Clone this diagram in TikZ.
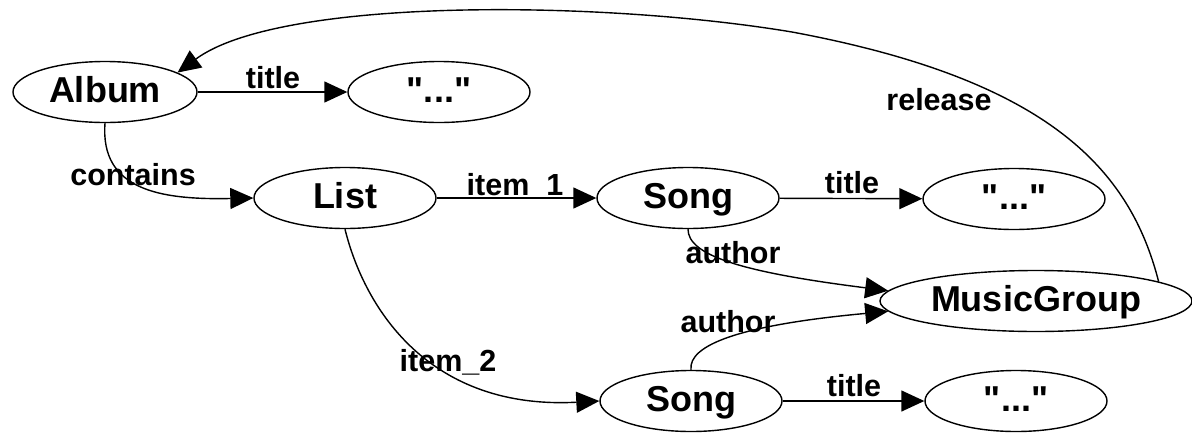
\documentclass[tikz,border=0pt]{standalone}
\usepackage{fontspec}
\setmainfont{Liberation Sans}[Ligatures=TeXOff]
\usetikzlibrary{shapes.geometric,arrows.meta}
\tikzset{
  nd/.style={ellipse, draw, line width=1.4pt, minimum width=182pt, minimum height=61pt,
    inner sep=0pt, text height=26pt, text depth=6pt,
    font=\fontsize{36}{40}\selectfont\bfseries},
  lbl/.style={anchor=base, inner sep=0pt, font=\fontsize{30.5}{34}\selectfont\bfseries},
  edge/.style={line width=1.4pt, -{Triangle[length=23pt,width=21pt]}},
}
\begin{document}
\begin{tikzpicture}[x=1pt,y=-1pt]
\useasboundingbox (0,0) rectangle (1192,432);
\node[nd, minimum width=184pt] (album) at (105,92) {Album};
\node[nd] (str1) at (439,92) {"..."};
\node[nd] (list) at (345,198) {List};
\node[nd] (song1) at (688,198) {Song};
\node[nd] (str2) at (1014,199) {"..."};
\node[nd, minimum width=312pt] (mg) at (1036,301) {MusicGroup};
\node[nd] (song2) at (691,401) {Song};
\node[nd] (str3) at (1016,401) {"..."};

\draw[edge] (album) -- (str1);
\draw[edge] (list) -- (song1);
\draw[edge] (song1) -- (str2);
\draw[edge] (song2) -- (str3);
\draw[edge] (album.south) .. controls (100,190) and (160,200) .. (list.west);
\draw[edge] (list.south) .. controls (365,310) and (430,410) .. (song2.west);
\draw[edge] (song1.south) .. controls (688,255) and (740,272) .. (mg.176);
\draw[edge] (song2.north) .. controls (688,345) and (740,325) .. (mg.184);
\draw[edge] (mg.9) .. controls (1130,170) and (1050,80) .. (792,32)
   .. controls (600,0) and (280,-3) .. (album.15);

\node[lbl] (l1) at (273,88) {title};
\node[lbl] (l2) at (939,110) {release};
\node[lbl] (l3) at (133,185) {contains};
\node[lbl] (l4) at (515,195) {item\_1};
\node[lbl] (l5) at (852,193) {title};
\node[lbl] (l6) at (733,263) {author};
\node[lbl] (l7) at (728,332) {author};
\node[lbl] (l8) at (448,371) {item\_2};
\node[lbl] (l9) at (854,396) {title};
\end{tikzpicture}
\end{document}
